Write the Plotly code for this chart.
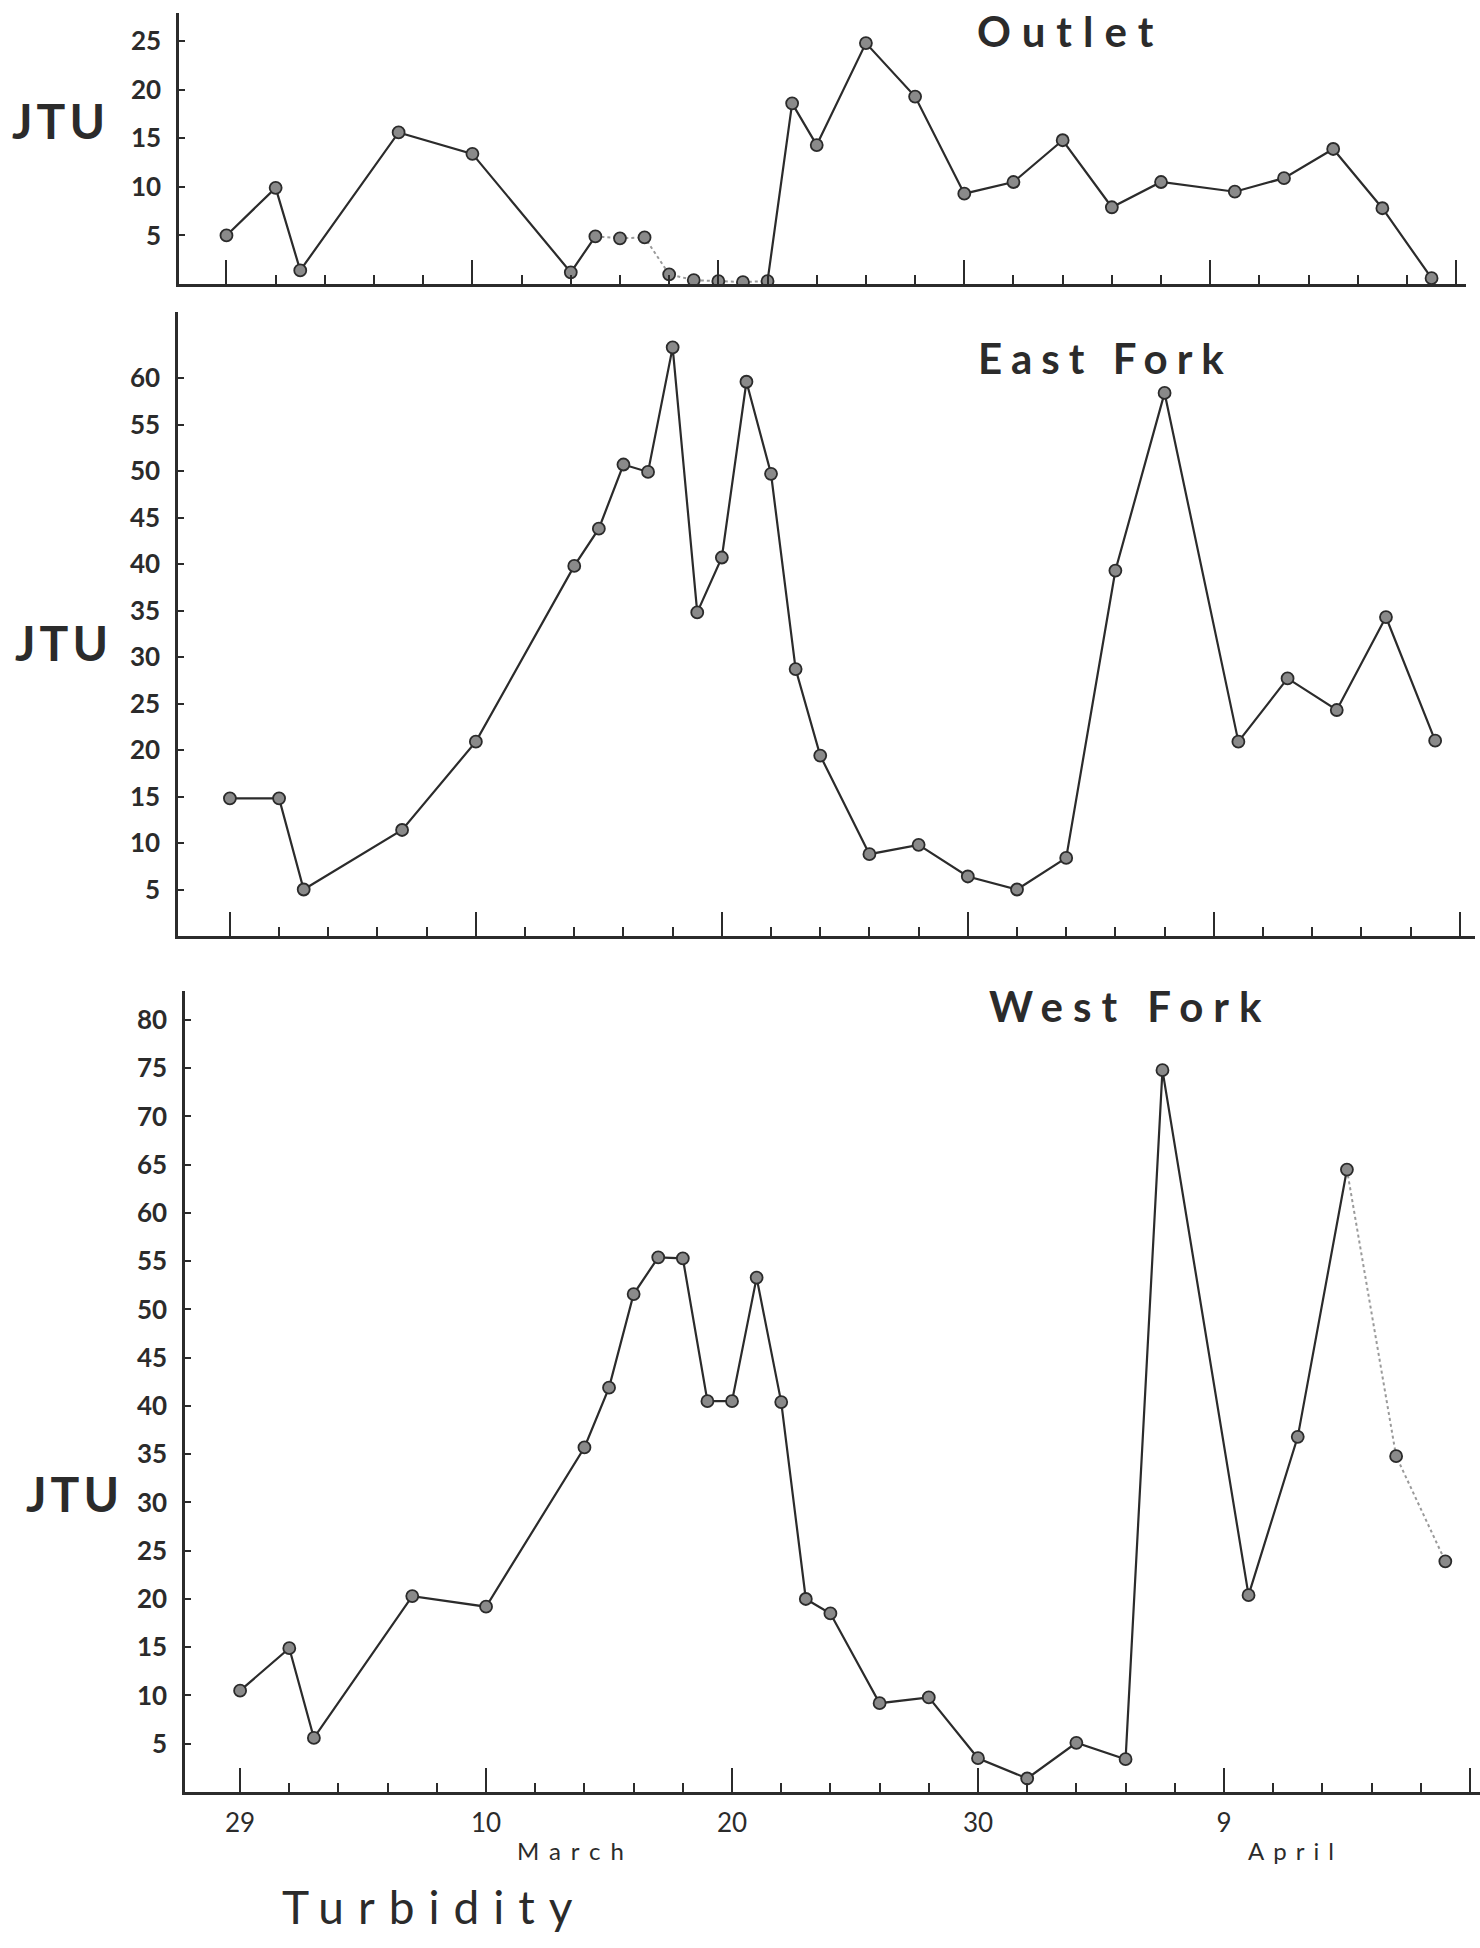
import plotly.graph_objects as go

# ---- data (day 0 = 29 February) ----
days_outlet = [0, 2, 3, 7, 10, 14, 15, 16, 17, 18, 19, 20, 21, 22, 23, 24,
               26, 28, 30, 32, 34, 36, 38, 41, 43, 45, 47, 49]
outlet_jtu = [5.0, 9.9, 1.4, 15.6, 13.4, 1.2, 4.9, 4.7, 4.8, 1.0, 0.4, 0.3, 0.2, 0.3, 18.6, 14.3,
              24.8, 19.3, 9.3, 10.5, 14.8, 7.9, 10.5, 9.5, 10.9, 13.9, 7.8, 0.6]

days_east = [0, 2, 3, 7, 10, 14, 15, 16, 17, 18, 19, 20, 21, 22, 23, 24,
             26, 28, 30, 32, 34, 36, 38, 41, 43, 45, 47, 49]
east_jtu = [14.8, 14.8, 5.0, 11.4, 20.9, 39.8, 43.8, 50.7, 49.9, 63.3, 34.8, 40.7, 59.6, 49.7, 28.7, 19.4,
            8.8, 9.8, 6.4, 5.0, 8.4, 39.3, 58.4, 20.9, 27.7, 24.3, 34.3, 21.0]

days_west = [0, 2, 3, 7, 10, 14, 15, 16, 17, 18, 19, 20, 21, 22, 23, 24,
             26, 28, 30, 32, 34, 36, 37.5, 41, 43, 45, 47, 49]
west_jtu = [10.5, 14.9, 5.6, 20.3, 19.2, 35.7, 41.9, 51.6, 55.4, 55.3, 40.5, 40.5, 53.3, 40.4, 20.0, 18.5,
            9.2, 9.8, 3.5, 1.4, 5.1, 3.4, 74.8, 20.4, 36.8, 64.5, 34.8, 23.9]

x_tick_days = [0, 10, 20, 30, 40, 50]
x_tick_text = ["29", "10", "20", "30", "9", "19"]
x_minor_days = [2, 4, 6, 8, 12, 14, 16, 18, 22, 24, 26, 28, 32, 34, 36, 38, 42, 44, 46, 48]
panel_titles = ["Outlet", "East Fork", "West Fork"]

W, H = 1480, 1948
INK = "#2b2b2b"
FONT = "Lato"

fig = go.Figure()

def seg(xs, ys, i0, i1, ax, faded=False):
    fig.add_trace(go.Scatter(
        x=xs[i0:i1], y=ys[i0:i1], mode="lines", xaxis=ax[0], yaxis=ax[1],
        line=dict(color="#9a9a9a" if faded else INK, width=2.2 if not faded else 2,
                  dash="dot" if faded else "solid"),
        hoverinfo="skip", showlegend=False))

def markers(xs, ys, ax):
    fig.add_trace(go.Scatter(
        x=xs, y=ys, mode="markers", xaxis=ax[0], yaxis=ax[1],
        marker=dict(size=12, color="#8a8a8a", line=dict(color=INK, width=1.8)),
        showlegend=False))

# Outlet (faded dotted stretch between the 15th and 22nd)
ax1 = ("x", "y")
seg(days_outlet, outlet_jtu, 0, 7, ax1)
seg(days_outlet, outlet_jtu, 6, 14, ax1, faded=True)
seg(days_outlet, outlet_jtu, 13, len(days_outlet), ax1)
markers(days_outlet, outlet_jtu, ax1)

# East Fork
ax2 = ("x2", "y2")
seg(days_east, east_jtu, 0, len(days_east), ax2)
markers(days_east, east_jtu, ax2)

# West Fork (faded end)
ax3 = ("x3", "y3")
n = len(days_west)
seg(days_west, west_jtu, 0, n - 2, ax3)
seg(days_west, west_jtu, n - 3, n, ax3, faded=True)
markers(days_west, west_jtu, ax3)

def px_x(a, b):
    return [a / W, b / W]

def px_y(top, bottom):
    return [1 - bottom / H, 1 - top / H]

def xaxis(domain, rng, anchor, labels):
    return dict(domain=domain, range=rng, anchor=anchor,
                showline=True, linecolor=INK, linewidth=2.5, showgrid=False, zeroline=False,
                tickmode="array", tickvals=x_tick_days,
                ticktext=x_tick_text if labels else [""] * len(x_tick_days),
                showticklabels=labels,
                ticks="inside", ticklen=24, tickwidth=2, tickcolor=INK,
                minor=dict(tickmode="array", tickvals=x_minor_days, ticks="inside",
                           ticklen=9, tickwidth=1.6, tickcolor=INK, showgrid=False),
                tickfont=dict(family=FONT, size=26, color=INK), ticklabelstandoff=6)

def yaxis(domain, rng, anchor, vals):
    return dict(domain=domain, range=rng, anchor=anchor,
                showline=True, linecolor=INK, linewidth=2.5, showgrid=False, zeroline=False,
                tickmode="array", tickvals=vals, ticktext=[str(v) for v in vals],
                ticks="inside", ticklen=6, tickwidth=1.6, tickcolor=INK,
                tickfont=dict(family=FONT, size=26, color=INK, weight="bold"),
                ticklabelstandoff=10)

fig.update_layout(
    width=W, height=H, margin=dict(l=0, r=0, t=0, b=0),
    paper_bgcolor="white", plot_bgcolor="white", showlegend=False,
    xaxis=xaxis(px_x(179, 1466), [-1.93, 50.4], "y", False),
    yaxis=yaxis(px_y(13, 284), [0, 27.9], "x", list(range(5, 26, 5))),
    xaxis2=xaxis(px_x(178, 1475), [-2.11, 50.62], "y2", False),
    yaxis2=yaxis(px_y(312, 936), [0, 67.1], "x2", list(range(5, 61, 5))),
    xaxis3=xaxis(px_x(185, 1480), [-2.24, 50.41], "y3", True),
    yaxis3=yaxis(px_y(991, 1792), [0, 83.0], "x3", list(range(5, 81, 5))),
)

def ann(text, x, y, size, bold=True, spacing=0):
    t = text
    if spacing:
        t = '<span style="letter-spacing:%dpx">%s</span>' % (spacing, text)
    fig.add_annotation(text=t, x=x / W, y=1 - y / H, xref="paper", yref="paper",
                       showarrow=False, xanchor="center", yanchor="middle",
                       font=dict(family=FONT, size=size, color=INK,
                                 weight="bold" if bold else "normal"))

# panel titles
ann(panel_titles[0], 1070, 31, 42, spacing=11)
ann(panel_titles[1], 1105, 358, 42, spacing=9)
ann(panel_titles[2], 1130, 1006, 42, spacing=10)

# y titles
ann("JTU", 60, 120, 48, spacing=4)
ann("JTU", 63, 642, 48, spacing=4)
ann("JTU", 74, 1493, 48, spacing=4)

# month labels and caption
ann("March", 575, 1850, 24, bold=False, spacing=10)
ann("April", 1295, 1850, 24, bold=False, spacing=9)
ann("Turbidity", 434, 1906, 46, bold=False, spacing=14)

fig.write_html("out.html")
